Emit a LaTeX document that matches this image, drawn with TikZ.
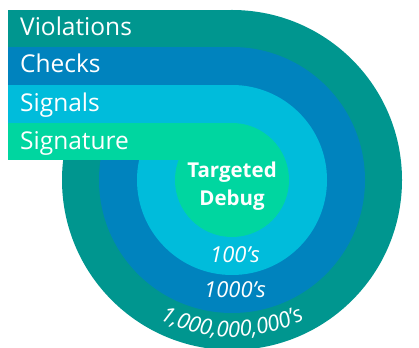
\documentclass[tikz,border=0pt]{standalone}
\usepackage{fontspec}
\setmainfont{Open Sans}
\usepackage{tikz}
\usetikzlibrary{positioning, calc, decorations.text}
\definecolor{ringteal}{RGB}{0,150,143}
\definecolor{ringblue}{RGB}{0,131,190}
\definecolor{ringcyan}{RGB}{0,188,219}
\definecolor{ringgreen}{RGB}{0,214,160}
\tikzset{
  band/.style={font=\fontsize{24.5}{27}\selectfont, text=white, anchor=base west, inner sep=0pt},
  core/.style={font=\fontsize{20.5}{28}\selectfont\bfseries, text=white, align=center, inner sep=0pt},
  count/.style={font=\fontsize{22}{24}\selectfont\itshape, text=white, anchor=base, inner sep=0pt}
}
\begin{document}
\begin{tikzpicture}[x=1pt, y=1pt]
  \useasboundingbox (0,0) rectangle (419,347);
  % rings, outermost first
  \foreach \r/\c in {170/ringteal, 133/ringblue, 95/ringcyan, 57/ringgreen} {
    \fill[\c] (8,{167+\r}) rectangle (232,187);
    \fill[\c] (232,167) circle (\r);
  }
  \coordinate (c) at (232,167);
  % bar labels
  \node[band] (viol) at (20,311) {Violations};
  \node[band] (chk) at (20,274) {Checks};
  \node[band] (sig) at (20,235) {Signals};
  \node[band] (sgn) at (20,197) {Signature};
  % centre and counts
  \node[core] (dbg) at (232,161) {Targeted\\Debug};
  \node[count] (c100) at (235,84) {100’s};
  \node[count] (c1000) at (235,49) {1000’s};
  \path[decorate, decoration={text along path, text align=center,
      text={|\fontsize{22}{24}\selectfont\itshape\color{white}|1,000,000,000’s}}]
    ($(c)+(228:157)$) arc (228:312:157);
\end{tikzpicture}
\end{document}
